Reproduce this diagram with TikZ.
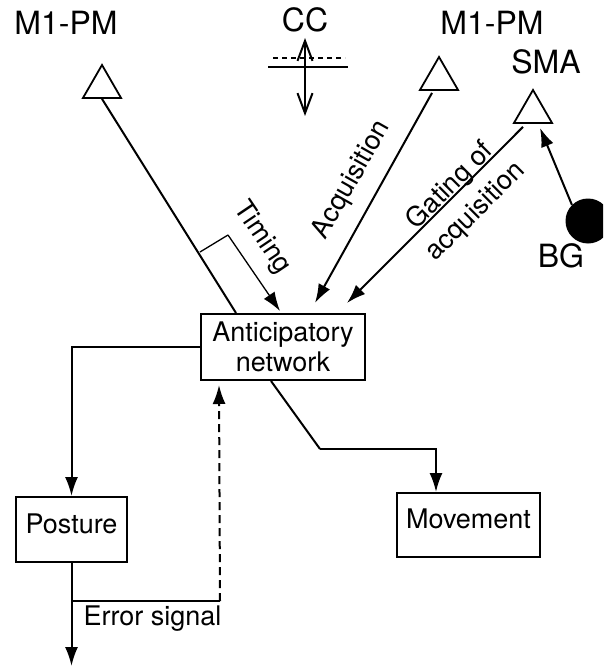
\documentclass[tikz,border=0pt]{standalone}
\usepackage{fontspec}
\setmainfont{TeX Gyre Heros}
\usetikzlibrary{arrows.meta}
\usetikzlibrary{shapes.geometric}
\usetikzlibrary{positioning}

\begin{document}
\begin{tikzpicture}[x=1pt,y=-1pt]
    \tikzset{
      >={Latex[length=19pt,width=13pt]},
      every node/.style={font=\fontsize{27}{30}\selectfont},
      area/.style={font=\fontsize{32}{36}\selectfont},
      cell/.style={draw, line width=1.8pt, regular polygon, regular polygon sides=3,
        minimum size=44pt, inner sep=0pt},
      unit/.style={draw, line width=2pt, inner sep=0pt},
      lowtext/.style={text height=19pt, text depth=12pt},
      conn/.style={line width=2pt},
      flat/.style={line width=1.3pt},
    }
    \useasboundingbox (0,0) rectangle (603,666);
    \clip (0,0) rectangle (603,666);

    % cortical areas
    \node[area] (m1left) at (66,23) {M1-PM};
    \node[area] (cc) at (305,20) {CC};
    \node[area] (m1right) at (492,23) {M1-PM};
    \node[area] (sma) at (546,62) {SMA};
    \node[area] (bg) at (561,256) {BG};
    \node[cell] (tri1) at (102,87) {};
    \node[cell] (tri2) at (439,79) {};
    \node[cell] (tri3) at (533,112) {};
    \node[circle, fill, minimum size=45pt, inner sep=0pt] (bgdot) at (588,221) {};

    % boxes
    \node[unit, minimum width=164pt, minimum height=66pt, align=center] (antic) at (283,347) {Anticipatory\\network};
    \node[unit, lowtext, minimum width=111pt, minimum height=65pt] (posture) at (71.5,529.5) {Posture};
    \node[unit, lowtext, minimum width=143pt, minimum height=64pt] (movement) at (468.5,525) {Movement};

    % corpus callosum
    \coordinate (cctop) at (305,38);
    \coordinate (ccbot) at (305,116);
    \draw[flat, dash pattern=on 5pt off 4pt] (273,58) -- (345,58);
    \draw[flat] (268,67) -- (348,67);
    \draw[conn, {Straight Barb[length=20pt,width=15pt]}-{Straight Barb[length=20pt,width=15pt]}]
      (cctop) -- (ccbot);

    % inputs to the anticipatory network
    \coordinate (tmgfoot) at ([xshift=36pt]antic.north west);
    \coordinate (tmgbase) at (200,252);
    \coordinate (tmgknee) at (228,235);
    \coordinate (tmgin) at (280,311);
    \coordinate (acqin) at (315,303);
    \coordinate (gatein) at (347,303);
    \draw[conn] (tri1.south) -- (tmgfoot);
    \draw[flat] (tmgbase) -- (tmgknee);
    \draw[flat, ->] (tmgknee) -- (tmgin);
    \node[rotate=-56] (tmglbl) at (262,238) {Timing};
    \draw[conn, ->] ([xshift=-7pt,yshift=-2pt]tri2.south) -- (acqin);
    \node[rotate=60.5] (acqlbl) at (352,180) {Acquisition};
    \draw[conn, ->] ([xshift=-10pt,yshift=-3pt]tri3.south) -- (gatein);
    \node[rotate=45, align=center, font=\fontsize{27}{36}\selectfont] (gatelbl) at (463,199) {Gating of\\acquisition};
    \draw[conn, ->] (bgdot.north west) -- ([xshift=7pt,yshift=-4pt]tri3.south);

    % outputs
    \draw[conn, ->] (antic.west) -| (posture.north);
    \coordinate (mvbend) at (320,449);
    \coordinate (mvin) at ([xshift=40pt]movement.north west);
    \draw[conn] ([xshift=71pt]antic.south west) -- (mvbend);
    \draw[conn, ->] (mvbend) -| (mvin);

    % error signal
    \coordinate (errout) at (71.5,666);
    \coordinate (errjoint) at (71.5,601);
    \coordinate (errturn) at (220,601);
    \coordinate (errin) at ([xshift=19pt,yshift=-4pt]antic.south west);
    \draw[conn, ->] (posture.south) -- (errout);
    \draw[flat] (errjoint) -- (errturn);
    \draw[conn, dash pattern=on 8pt off 5pt, ->] (errturn) -- (errin);
    \node[anchor=west] (errlbl) at (80,619) {Error signal};
\end{tikzpicture}
\end{document}
